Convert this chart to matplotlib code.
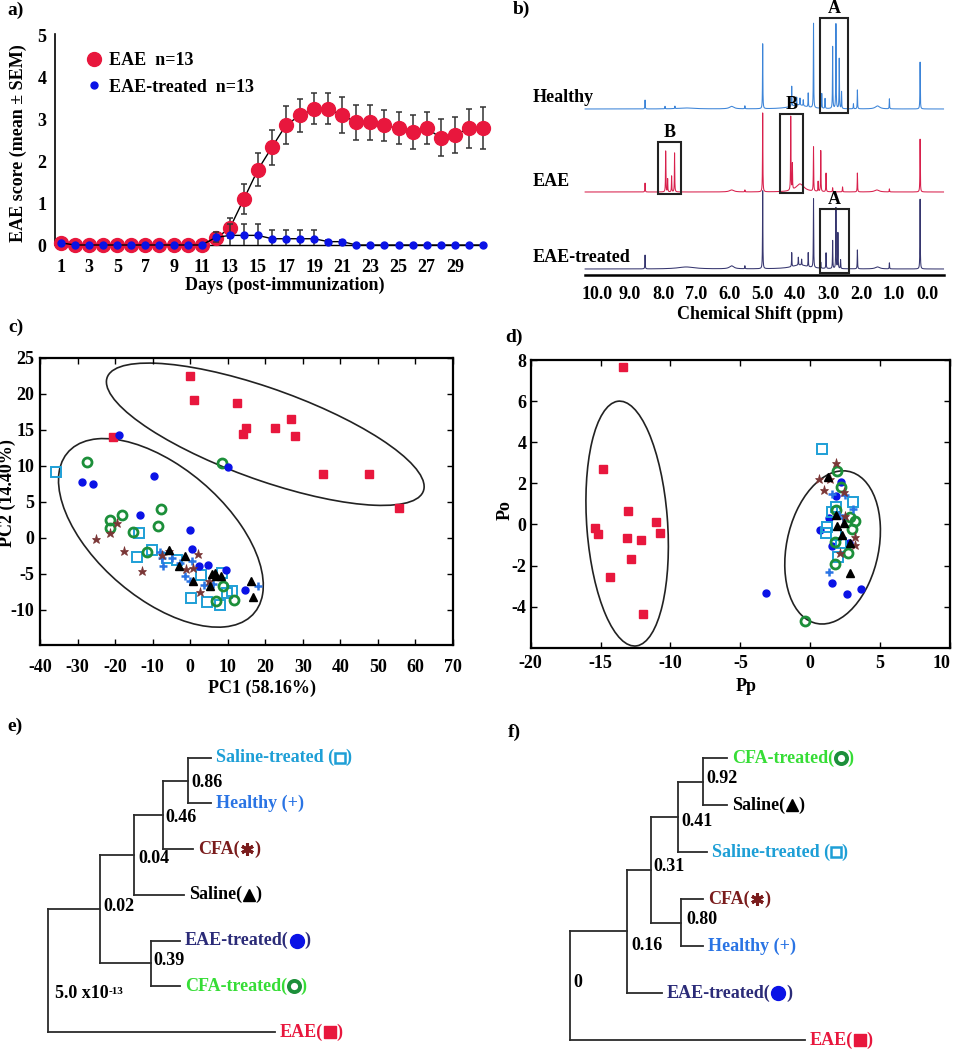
import numpy as np
import matplotlib
matplotlib.use('Agg')
import matplotlib.pyplot as plt
from matplotlib.patches import Ellipse, Rectangle
from matplotlib.lines import Line2D
from matplotlib.offsetbox import DrawingArea, AnnotationBbox

plt.rcParams['font.family'] = ['Liberation Serif', 'DejaVu Sans']
plt.rcParams['font.weight'] = 'bold'
plt.rcParams['axes.labelweight'] = 'bold'
plt.rcParams['font.size'] = 13
plt.rcParams['axes.unicode_minus'] = False

# ---------------- data: a) clinical score ----------------
days = np.arange(1, 32)
eae_mean = [0.05, 0, 0, 0, 0, 0, 0, 0, 0, 0, 0,
            0.16, 0.40, 1.10, 1.80, 2.34, 2.87, 3.10, 3.26, 3.26, 3.10,
            2.94, 2.94, 2.86, 2.79, 2.71, 2.79, 2.57, 2.63, 2.79, 2.79]
eae_sem = [0] * 11 + [0.10, 0.24, 0.35, 0.40, 0.42, 0.45, 0.39, 0.37, 0.37, 0.43,
                      0.42, 0.42, 0.37, 0.38, 0.41, 0.38, 0.44, 0.44, 0.47, 0.50]
trt_mean = [0.05, 0, 0, 0, 0, 0, 0, 0, 0, 0, 0,
            0.18, 0.23, 0.23, 0.23, 0.15, 0.15, 0.15, 0.15, 0.08, 0.08] + [0] * 10
trt_sem = [0] * 11 + [0.12, 0.27, 0.27, 0.27, 0.20, 0.20, 0.20, 0.20, 0.05, 0.05] + [0] * 10

# ---------------- data: b) NMR spectra (ppm, height) ----------------
ppm_ticks = [10.0, 9.0, 8.0, 7.0, 6.0, 5.0, 4.0, 3.0, 2.0, 1.0, 0.0]
healthy_ppm = [8.545, 7.94, 7.64, 5.52, 4.98, 4.10, 3.95, 3.85, 3.75, 3.60, 3.44, 3.19, 3.09,
               2.86, 2.76, 2.66, 2.59, 2.23, 2.11, 1.14, 0.21]
healthy_h = [9, 2.5, 2.5, 3, 65, 20, 8, 7, 6, 14, 86, 15, 10, 62, 85, 51, 17, 5, 19, 10, 47]
healthy_hump = [(7.3, 1, 0.3), (5.92, 2.5, 0.08), (3.9, 4, 0.3), (1.5, 3, 0.08)]
eae_ppm = [8.545, 7.92, 7.86, 7.74, 7.65, 5.52, 4.98, 4.13, 4.08, 3.44, 3.30, 3.22, 3.06,
           2.86, 2.56, 2.11, 1.14, 0.21]
eae_h = [9, 41, 13, 16, 39, 2, 79, 75, 26, 45, 10, 41, 19, 4, 5, 19, 3, 53]
eae_hump = [(5.92, 2, 0.08), (3.85, 8, 0.15), (1.52, 2, 0.08)]
trt_ppm = [8.545, 5.52, 4.98, 4.10, 3.90, 3.80, 3.60, 3.44, 3.22, 3.06, 2.86, 2.76, 2.70,
           2.62, 2.11, 1.14, 0.21]
trt_h = [14, 3, 78, 14, 8, 6, 14, 70, 6, 16, 28, 61, 36, 9, 19, 6, 70]
trt_hump = [(7.3, 2, 0.3), (5.92, 3, 0.08), (3.85, 4, 0.3), (1.5, 2, 0.08)]
spec_names = ['Healthy', 'EAE', 'EAE-treated']
spec_offsets = [166, 83, 6]
# highlighted regions: (ppm_high, ppm_low, y_low, y_high, label)
regions = [(3.24, 2.38, 162.3, 256.7, 'A'), (8.14, 7.44, 81, 132.7, 'B'),
           (4.45, 3.77, 81.7, 161, 'B'), (3.24, 2.36, 1.7, 66, 'A')]

# ---------------- data: c) PCA scores ----------------
pc1_eae = [-0.07, 1.08, 12.6, 14.8, 14.1, 22.65, 26.8, 27.9, 35.5, 47.6, 55.7, -20.66]
pc2_eae = [22.54, 19.2, 18.8, 15.26, 14.47, 15.2, 16.5, 14.1, 8.9, 8.9, 4.09, 13.96]
pc1_trt = [-19.0, 10.1, -28.9, -25.8, -9.6, -13.4, 0.0, 0.6, 2.4, 4.8, 9.5, 14.6]
pc2_trt = [14.33, 9.88, 7.75, 7.52, 8.54, 3.11, 1.03, -1.57, -3.9, -3.8, -4.5, -7.2]
pc1_cfat = [-27.6, 8.6, -21.4, -21.4, -18.2, -15.1, -8.6, -7.9, -11.5, 8.8, 6.8, 11.8]
pc2_cfat = [10.53, 10.44, 2.51, 1.35, 3.2, 0.8, 1.68, 4.0, -2.03, -6.67, -8.85, -8.71]
pc1_salt = [-35.7, -13.6, -14.2, -10.3, -6.3, -3.6, 3.0, 8.4, 0.1, 4.5, 7.9, 9.7, 11.2]
pc2_salt = [9.1, 0.66, -2.73, -1.66, -2.82, -3.05, -5.14, -4.9, -8.43, -8.89, -9.31, -7.69, -7.36]
pc1_hea = [-8.06, -7.6, -7.17, -4.95, -1.4, 0.46, -0.07, 3.65, 6.1, 18.1, -2.7]
pc2_hea = [-2.03, -2.82, -3.98, -2.82, -5.28, -3.28, -6.06, -6.53, -6.39, -6.67, -3.5]
pc1_cfa = [-25.2, -21.4, -19.6, -17.6, -12.9, -5.66, 1.97, -1.14, 0.8, 2.6, 5.1, -7.6]
pc2_cfa = [-0.18, 0.66, 2.05, -1.8, -4.67, -1.89, -2.26, -4.3, -4.2, -7.6, -6.06, -2.35]
pc1_sal = [-5.75, -1.3, -2.9, 0.8, 5.4, 5.9, 6.85, 8.3, 16.2, 16.8, 6.6]
pc2_sal = [-1.66, -2.5, -3.98, -6.06, -6.67, -5.0, -5.37, -5.37, -6.06, -8.24, -4.9]
pca_ellipses = [((20, 14.4), 85.9, 13.2, -10.0), ((-7.8, 0.69), 56.8, 20.9, -17.45)]

# ---------------- data: d) OPLS scores ----------------
pp_eae = [-13.38, -14.83, -13.02, -11.05, -10.74, -15.38, -15.17, -13.12, -12.12, -12.79, -14.31, -11.98]
po_eae = [7.67, 2.72, 0.65, 0.11, -0.41, -0.19, -0.47, -0.68, -0.76, -1.69, -2.58, -4.38]
pp_trt = [-3.19, 2.21, 1.86, 1.31, 0.67, 1.57, 1.55, 2.64, 3.6, 2.76]
po_trt = [-3.35, 2.07, 1.38, 0.29, -0.28, -1.04, -2.84, -3.40, -3.16, -0.92]
pp_cfat = [1.9, 2.17, 3.17, 3.0, 1.74, 2.69, 1.74, 1.86, -0.40, 2.81]
po_cfat = [2.59, 1.83, 0.16, -0.23, -0.84, -1.38, -1.94, 0.70, -4.68, 0.37]
pp_salt = [0.86, 3.05, 1.57, 1.86, 1.19, 1.10, 1.81, 2.21, 1.98]
po_salt = [3.65, 1.10, 0.62, 0.86, -0.15, -0.44, -0.52, -0.89, -1.57]
pp_hea = [1.57, 2.52, 3.05, 2.05, 1.33, 2.33]
po_hea = [1.47, 1.43, 0.73, 0.45, -2.30, 0.29]
pp_cfa = [1.81, 0.62, 1.43, 1.02, 2.45, 3.17, 3.17, 2.14, 2.52]
po_cfa = [2.97, 2.19, 2.19, 1.67, 1.59, -0.63, -1.0, -1.41, 0.41]
pp_sal = [1.26, 1.81, 1.90, 2.29, 2.81, 2.88, 2.45]
po_sal = [2.32, 0.45, -0.08, -0.52, -0.92, -2.35, 0.08]
opls_ellipses = [((-13.1, 0.04), 5.77, 11.98, 6.7), ((1.6, -1.12), 7.95, 6.26, 55.7)]

# ---------------- data: e, f) dendrograms ----------------
# leaves top->bottom, leaf tip distance; nodes (child a, child b, distance, value)
e_leaves = ['Saline-treated', 'Healthy', 'CFA', 'Saline', 'EAE-treated', 'CFA-treated', 'EAE']
e_leaf_x = [163, 163, 145.6, 136.3, 132.3, 132.3, 227.3]
e_nodes = [(0, 1, 140.6, '0.86'), (7, 2, 115.6, '0.46'), (8, 3, 86.6, '0.04'),
           (4, 5, 103, '0.39'), (9, 10, 52.3, '0.02'), (11, 6, 0, '5.0 x10')]
f_leaves = ['CFA-treated', 'Saline', 'Saline-treated', 'CFA', 'Healthy', 'EAE-treated', 'EAE']
f_leaf_x = [157.3, 157.3, 136.7, 133.3, 133.3, 91.7, 235]
f_nodes = [(0, 1, 133.3, '0.92'), (7, 2, 108.3, '0.41'), (3, 4, 110.7, '0.80'),
           (8, 9, 80.7, '0.31'), (10, 5, 56.7, '0.16'), (11, 6, 0, '0')]

RED = '#e8173d'
BLUE = '#0a12e6'
GREEN = '#1c8f3a'
CYAN = '#1e9fd6'
HBLUE = '#2a74e4'
BROWN = '#7a3636'

fig = plt.figure(figsize=(9.54, 10.5), dpi=100)


def box(l, t, r, b):
    return [l / 954, 1 - b / 1050, (r - l) / 954, (b - t) / 1050]


# ================= a) =================
ax = fig.add_axes(box(55, 33.9, 485, 245))
eae_mean, eae_sem = np.array(eae_mean), np.array(eae_sem)
trt_mean, trt_sem = np.array(trt_mean), np.array(trt_sem)
m = eae_sem > 0
ax.errorbar(days[m], eae_mean[m], yerr=eae_sem[m], fmt='none', ecolor='#333333',
            elinewidth=1.1, capsize=2.5, capthick=1.1, zorder=2)
ax.plot(days, eae_mean, color='black', lw=1, marker='o', ms=10, mfc=RED, mec=RED,
        clip_on=False, zorder=3)
m = trt_sem > 0
ax.errorbar(days[m], trt_mean[m], yerr=trt_sem[m], fmt='none', ecolor='#333333',
            elinewidth=1.1, capsize=2.5, capthick=1.1, zorder=4)
ax.plot(days, trt_mean, color='black', lw=1, marker='o', ms=5, mfc=BLUE, mec=BLUE,
        clip_on=False, zorder=5)
ax.set_xlim(0.57, 31.15)
ax.set_ylim(0, 5.05)
ax.set_xticks(range(1, 30, 2))
ax.set_yticks(range(6))
ax.tick_params(length=0, labelsize=13)
ax.tick_params(axis='x', pad=10)
ax.tick_params(axis='y', pad=6)
for s in ['top', 'right']:
    ax.spines[s].set_visible(False)
ax.spines['left'].set_linewidth(1.2)
ax.spines['bottom'].set_linewidth(1.0)
ax.set_xlabel('Days (post-immunization)', fontsize=13)
ax.xaxis.set_label_coords(0.535, -0.15)
ax.set_ylabel('EAE score (mean ± SEM)', fontsize=13)
ax.yaxis.set_label_coords(-0.065, 0.483)
handles = [Line2D([], [], ls='none', marker='o', ms=10, mfc=RED, mec=RED),
           Line2D([], [], ls='none', marker='o', ms=5, mfc=BLUE, mec=BLUE)]
ax.legend(handles, ['EAE  n=13', 'EAE-treated  n=13'], loc='upper left',
          bbox_to_anchor=(0.07, 0.915), frameon=False, handlelength=1.0,
          handletextpad=0.3, labelspacing=0.55, borderpad=0, borderaxespad=0, fontsize=13)

# ================= b) =================
ax = fig.add_axes(box(533, 5, 945, 275))
grid = np.linspace(10.36, -0.5, 6000)


def spectrum(pk_ppm, pk_h, humps):
    y = np.zeros_like(grid)
    for p, h in zip(pk_ppm, pk_h):
        y += h / (1 + ((grid - p) / 0.006) ** 2)
    for p, h, w in humps:
        y += h / (1 + ((grid - p) / w) ** 2)
    return y


spec_data = [(healthy_ppm, healthy_h, healthy_hump, '#3c84d8'),
             (eae_ppm, eae_h, eae_hump, '#d8204c'),
             (trt_ppm, trt_h, trt_hump, '#36366f')]
for name, off, (pp, hh, hu, col) in zip(spec_names, spec_offsets, spec_data):
    ax.plot(grid, off + spectrum(pp, hh, hu), color=col, lw=0.75)
    ax.text(11.94, off + 11, name, ha='left', va='center', fontsize=13)
for hi, lo, y0, y1, lab in regions:
    ax.add_patch(Rectangle((lo, y0), hi - lo, y1 - y0, fill=False, ec='#222222', lw=1.5, zorder=5))
    ax.text((hi + lo) / 2, y1 + 1, lab, ha='center', va='bottom', fontsize=13)
ax.set_xlim(11.94, -0.545)
ax.set_ylim(0, 270)
for s in ['top', 'right', 'left']:
    ax.spines[s].set_visible(False)
ax.spines['bottom'].set_bounds(10.36, -0.5)
ax.spines['bottom'].set_linewidth(1.8)
ax.set_yticks([])
ax.set_xticks(ppm_ticks)
ax.set_xticklabels(['%.1f' % v for v in ppm_ticks])
ax.tick_params(axis='x', length=0, pad=8, labelsize=13)
ax.set_xlabel('Chemical Shift (ppm)', fontsize=13)
ax.xaxis.set_label_coords(0.551, -0.115)


# ================= c), d) =================
def scatter_groups(ax, groups):
    for xs, ys, mk, ms, fc, ec, mew in groups:
        ax.plot(xs, ys, ls='none', marker=mk, ms=ms, mfc=fc, mec=ec, mew=mew)


def frame(ax):
    for s in ax.spines.values():
        s.set_linewidth(1.6)
    ax.tick_params(direction='in', top=True, right=True, length=4, width=1, labelsize=13)


ax = fig.add_axes(box(40, 358, 453, 645))
scatter_groups(ax, [
    (pc1_eae, pc2_eae, 's', 6, RED, RED, 1),
    (pc1_salt, pc2_salt, 's', 6.5, 'none', CYAN, 1.4),
    (pc1_cfat, pc2_cfat, 'o', 6.5, 'none', GREEN, 2.0),
    (pc1_trt, pc2_trt, 'o', 5, BLUE, BLUE, 1),
    (pc1_hea, pc2_hea, '+', 6, HBLUE, HBLUE, 1.8),
    (pc1_cfa, pc2_cfa, '*', 6.5, BROWN, BROWN, 0.5),
    (pc1_sal, pc2_sal, '^', 5.5, 'black', 'black', 1),
])
for c, w, h, a in pca_ellipses:
    ax.add_patch(Ellipse(c, w, h, angle=a, fill=False, ec='#222222', lw=1.2))
ax.set_xlim(-40, 70)
ax.set_ylim(-14.9, 25)
ax.set_xticks(range(-40, 71, 10))
ax.set_yticks(range(-10, 26, 5))
frame(ax)
ax.tick_params(axis='x', pad=10)
ax.tick_params(axis='y', pad=4)
ax.set_xlabel('PC1 (58.16%)', fontsize=13)
ax.xaxis.set_label_coords(0.537, -0.12)
ax.set_ylabel('PC2 (14.40%)', fontsize=13)
ax.yaxis.set_label_coords(-0.058, 0.53)

ax = fig.add_axes(box(530.7, 360, 950, 647.7))
scatter_groups(ax, [
    (pp_eae, po_eae, 's', 6, RED, RED, 1),
    (pp_trt, po_trt, 'o', 5, BLUE, BLUE, 1),
    (pp_salt, po_salt, 's', 6.5, 'none', CYAN, 1.4),
    (pp_cfat, po_cfat, 'o', 6.5, 'none', GREEN, 2.0),
    (pp_hea, po_hea, '+', 6, HBLUE, HBLUE, 1.8),
    (pp_cfa, po_cfa, '*', 6.5, BROWN, BROWN, 0.5),
    (pp_sal, po_sal, '^', 5.5, 'black', 'black', 1),
])
for c, w, h, a in opls_ellipses:
    ax.add_patch(Ellipse(c, w, h, angle=a, fill=False, ec='#222222', lw=1.2))
ax.set_xlim(-20, 10)
ax.set_ylim(-6, 8)
ax.set_xticks(range(-20, 11, 5))
ax.set_yticks(range(-4, 9, 2))
frame(ax)
ax.tick_params(axis='x', pad=5)
ax.tick_params(axis='y', pad=3)
ax.get_xticklabels()[-1].set_horizontalalignment('right')
ax.set_xlabel('Pp', fontsize=13)
ax.xaxis.set_label_coords(0.515, -0.105)
ax.set_ylabel('Po', fontsize=13)
ax.yaxis.set_label_coords(-0.04, 0.479)

# ================= e), f) dendrograms =================
leaf_style = {
    'Saline-treated': ('Saline-treated (', CYAN, dict(marker='s', ms=7, mfc='white', mec=CYAN, mew=1.8)),
    'Healthy': ('Healthy (+)', HBLUE, None),
    'CFA': ('CFA(', '#7a1c1c', dict(marker=(6, 2, 0), ms=9, mec='#7a1c1c', mew=2.2)),
    'Saline': ('Saline(', 'black', dict(marker='^', ms=8, mfc='black', mec='black')),
    'EAE-treated': ('EAE-treated(', '#2b2b78', dict(marker='o', ms=10, mfc=BLUE, mec=BLUE)),
    'CFA-treated': ('CFA-treated(', '#36dd36', dict(marker='o', ms=8, mfc='white', mec=GREEN, mew=2.8)),
    'EAE': ('EAE(', RED, dict(marker='s', ms=8, mfc=RED, mec=RED)),
}


def leaf_label(ax, x, y, name):
    prefix, col, sym = leaf_style[name]
    t = ax.annotate(prefix, (x, y), xytext=(5, 0), textcoords='offset pixels',
                    ha='left', va='center', color=col, fontsize=13)
    if sym is None:
        return
    size = sym['ms'] + 1.5
    da = DrawingArea(size, size, 0, 0)
    da.add_artist(Line2D([size / 2], [size / 2], ls='none', **sym))
    ab = AnnotationBbox(da, (1, 0.5), xycoords=t, box_alignment=(0, 0.5),
                        frameon=False, pad=0)
    ax.add_artist(ab)
    ax.annotate(')', (1, 0.5), xycoords=ab, ha='left', va='center', color=col, fontsize=13)


def draw_tree(ax, leaves, leaf_x, nodes, node_dy):
    xs = list(leaf_x)
    ys = list(range(len(leaf_x)))
    for (a, b, nx, lab), (dx, dy) in zip(nodes, node_dy):
        ya, yb = ys[a], ys[b]
        ax.plot([nx, nx], [ya, yb], color='#2b2b2b', lw=1.3, solid_capstyle='projecting')
        ax.plot([nx, xs[a]], [ya, ya], color='#2b2b2b', lw=1.3, solid_capstyle='projecting')
        ax.plot([nx, xs[b]], [yb, yb], color='#2b2b2b', lw=1.3, solid_capstyle='projecting')
        xs.append(nx)
        ys.append((ya + yb) / 2)
        t = ax.annotate(lab, (nx, ys[-1]), xytext=(dx, -dy), textcoords='offset pixels',
                        ha='left', va='center', fontsize=13)
        if lab.endswith('x10'):
            ax.annotate('-13', (1, 0.92), xycoords=t, ha='left', va='top', fontsize=8)
    for i, name in enumerate(leaves):
        leaf_label(ax, leaf_x[i], i, name)
    ax.axis('off')


ax = fig.add_axes(box(0, 700, 477, 1050))
ax.set_xlim(-47.7, 429.3)
ax.set_ylim(6.396, -1.263)
draw_tree(ax, e_leaves, e_leaf_x, e_nodes,
          [(3, 2), (2.5, 3), (4, 3.5), (2.6, -3), (3.3, -3), (7, 23.5)])

ax = fig.add_axes(box(477, 700, 954, 1050))
ax.set_xlim(-93, 384)
ax.set_ylim(6.213, -1.242)
draw_tree(ax, f_leaves, f_leaf_x, f_nodes,
          [(2.7, -3.5), (3.4, 5), (6, -3.3), (2.6, -3.8), (5, 13.6), (3.3, -3.3)])

# panel letters
for lab, x, y in [('a)', 7, 10), ('b)', 513, 9), ('c)', 8, 327), ('d)', 505, 337),
                  ('e)', 7, 726), ('f)', 508, 732)]:
    fig.text(x / 954, 1 - y / 1050, lab, ha='left', va='center', fontsize=14, fontweight='bold')

fig.savefig('out.png', dpi=100)
